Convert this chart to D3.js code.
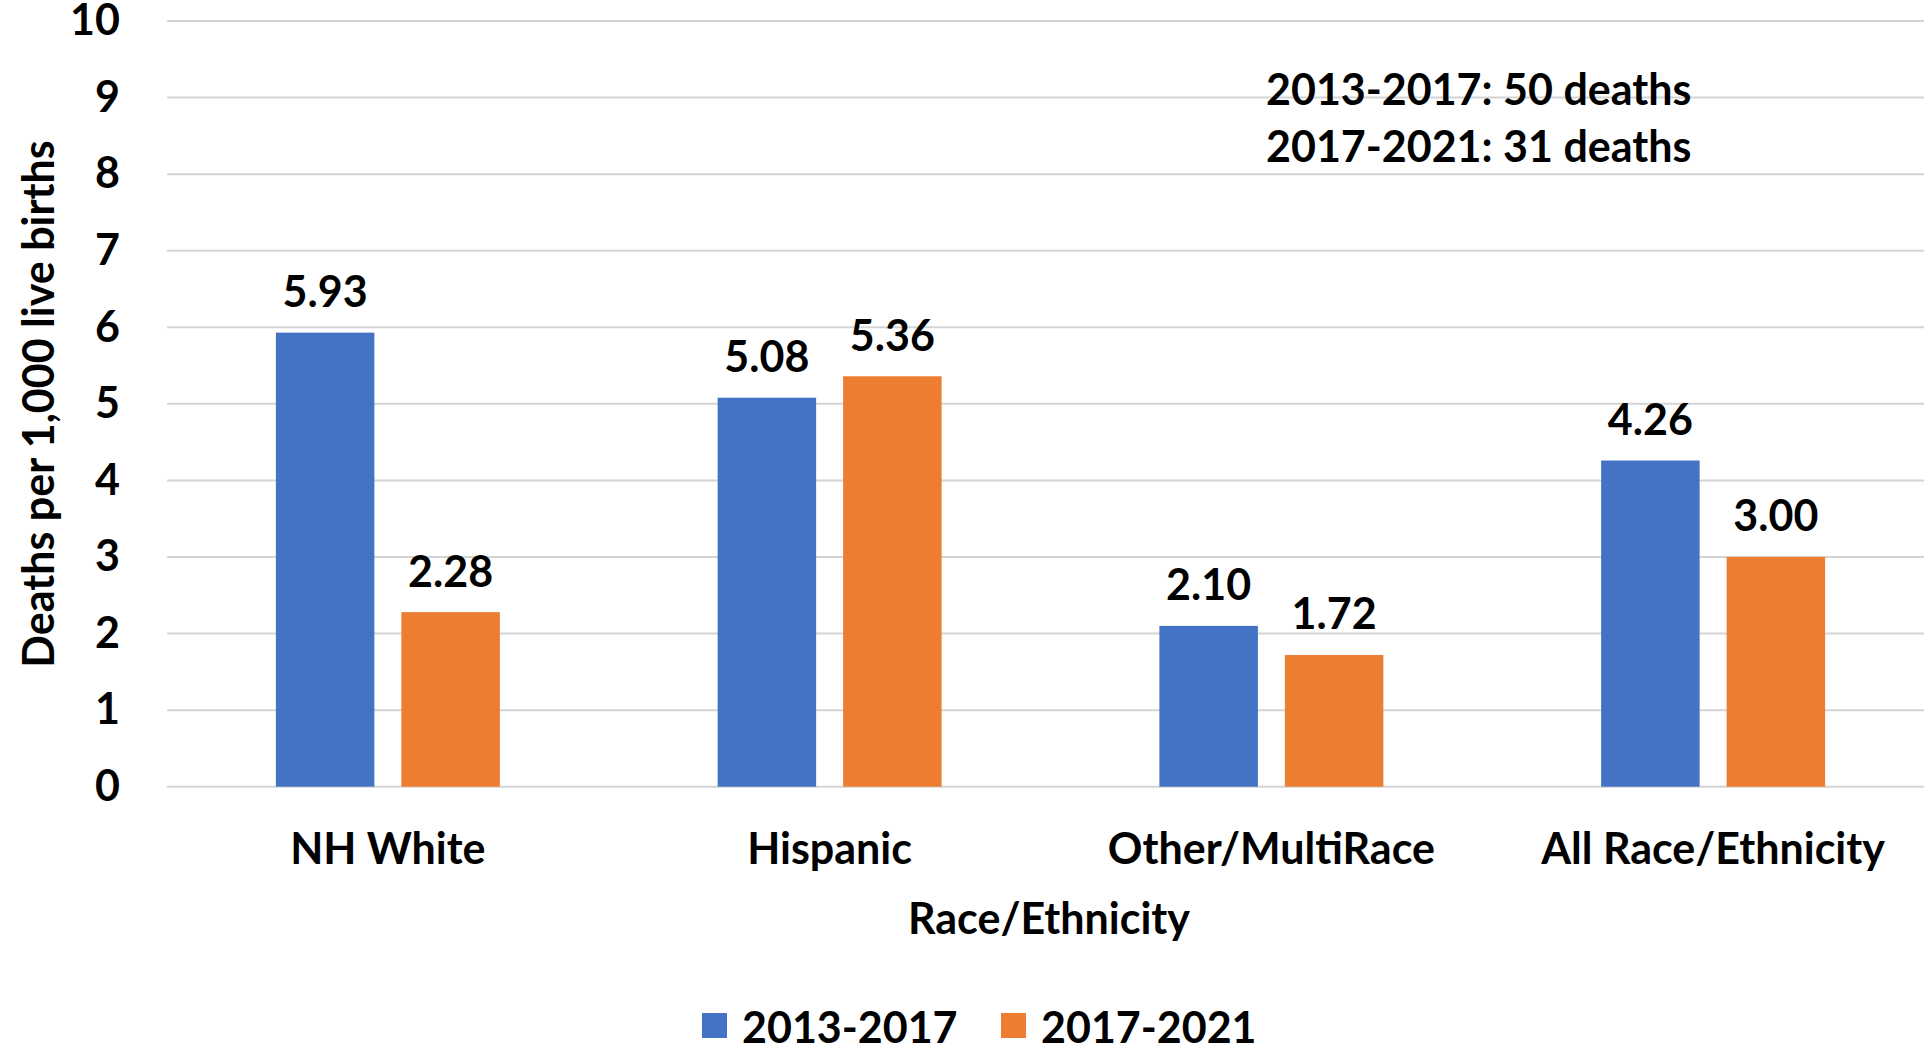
<!DOCTYPE html>
<html>
<head>
<meta charset="utf-8">
<script src="https://cdn.jsdelivr.net/npm/d3@7"></script>
<style>
  body { margin: 0; background: #fff; }
  text { font-family: Lato, "Open Sans", sans-serif; font-weight: bold; fill: #000; }
</style>
</head>
<body>
<svg width="1924" height="1052"></svg>
<script>
// chart data
var categories = ["NH White", "Hispanic", "Other/MultiRace", "All Race/Ethnicity"];
var series = ["2013-2017", "2017-2021"];
var values_2013_2017 = [5.93, 5.08, 2.10, 4.26];
var values_2017_2021 = [2.28, 5.36, 1.72, 3.00];
var y_ticks = [0, 1, 2, 3, 4, 5, 6, 7, 8, 9, 10];
var notes = ["2013-2017: 50 deaths", "2017-2021: 31 deaths"];

var colors = ["#4472C4", "#ED7D31"];
var font_size = 43;

var svg = d3.select("svg");

var x0 = d3.scaleBand()
  .domain(categories)
  .range([167, 1934])
  .paddingInner(0.493)
  .paddingOuter(0.2465);

var x1 = d3.scaleBand()
  .domain(series)
  .range([0, x0.bandwidth()])
  .paddingInner(0.215);

var y = d3.scaleLinear().domain([0, 10]).range([786.7, 21]);

// gridlines
svg.append("g")
  .selectAll("line")
  .data(y_ticks)
  .enter().append("line")
  .attr("x1", 167)
  .attr("x2", 1924)
  .attr("y1", function(d) { return y(d); })
  .attr("y2", function(d) { return y(d); })
  .attr("stroke", "#d4d4d4")
  .attr("stroke-width", 2);

// y axis labels
var yAxis = svg.append("g")
  .attr("transform", "translate(134,0)")
  .call(d3.axisLeft(y).tickValues(y_ticks).tickSize(0).tickPadding(14));
yAxis.select(".domain").remove();
yAxis.selectAll("text")
  .style("font-size", font_size + "px")
  .attr("font-family", null);

// bars
var rows = categories.map(function(c, i) {
  return { cat: c, vals: [values_2013_2017[i], values_2017_2021[i]] };
});

var group = svg.selectAll(".group")
  .data(rows)
  .enter().append("g")
  .attr("class", "group")
  .attr("transform", function(d) { return "translate(" + x0(d.cat) + ",0)"; });

group.selectAll("rect")
  .data(function(d) { return d.vals.map(function(v, j) { return { s: series[j], v: v, j: j }; }); })
  .enter().append("rect")
  .attr("x", function(d) { return x1(d.s); })
  .attr("y", function(d) { return y(d.v); })
  .attr("width", x1.bandwidth())
  .attr("height", function(d) { return y(0) - y(d.v); })
  .attr("fill", function(d) { return colors[d.j]; });

group.selectAll(".lbl")
  .data(function(d) { return d.vals.map(function(v, j) { return { s: series[j], v: v }; }); })
  .enter().append("text")
  .attr("class", "lbl")
  .attr("x", function(d) { return x1(d.s) + x1.bandwidth() / 2; })
  .attr("y", function(d) { return y(d.v) - 42; })
  .attr("text-anchor", "middle")
  .attr("dominant-baseline", "central")
  .style("font-size", font_size + "px")
  .text(function(d) { return d.v.toFixed(2); });

// category labels
svg.append("g")
  .selectAll("text")
  .data(categories)
  .enter().append("text")
  .attr("x", function(d) { return x0(d) + x0.bandwidth() / 2; })
  .attr("y", 847)
  .attr("text-anchor", "middle")
  .attr("dominant-baseline", "central")
  .style("font-size", font_size + "px")
  .text(function(d) { return d; });

// axis titles
svg.append("text")
  .attr("x", 1049)
  .attr("y", 917)
  .attr("text-anchor", "middle")
  .attr("dominant-baseline", "central")
  .style("font-size", font_size + "px")
  .text("Race/Ethnicity");

svg.append("text")
  .attr("transform", "translate(37,404) rotate(-90)")
  .attr("text-anchor", "middle")
  .attr("dominant-baseline", "central")
  .style("font-size", font_size + "px")
  .text("Deaths per 1,000 live births");

// notes
svg.append("g")
  .selectAll("text")
  .data(notes)
  .enter().append("text")
  .attr("x", 1266)
  .attr("y", function(d, i) { return 88 + i * 57; })
  .attr("dominant-baseline", "central")
  .style("font-size", font_size + "px")
  .text(function(d) { return d; });

// legend
var legend = svg.append("g").attr("transform", "translate(702,1026)");
var legendX = [0, 299];
var item = legend.selectAll(".item")
  .data(series)
  .enter().append("g")
  .attr("class", "item")
  .attr("transform", function(d, i) { return "translate(" + legendX[i] + ",0)"; });
item.append("rect")
  .attr("x", 0)
  .attr("y", -13)
  .attr("width", 25)
  .attr("height", 25)
  .attr("fill", function(d, i) { return colors[i]; });
item.append("text")
  .attr("x", 40)
  .attr("y", 0)
  .attr("dominant-baseline", "central")
  .style("font-size", font_size + "px")
  .text(function(d) { return d; });
</script>
</body>
</html>
